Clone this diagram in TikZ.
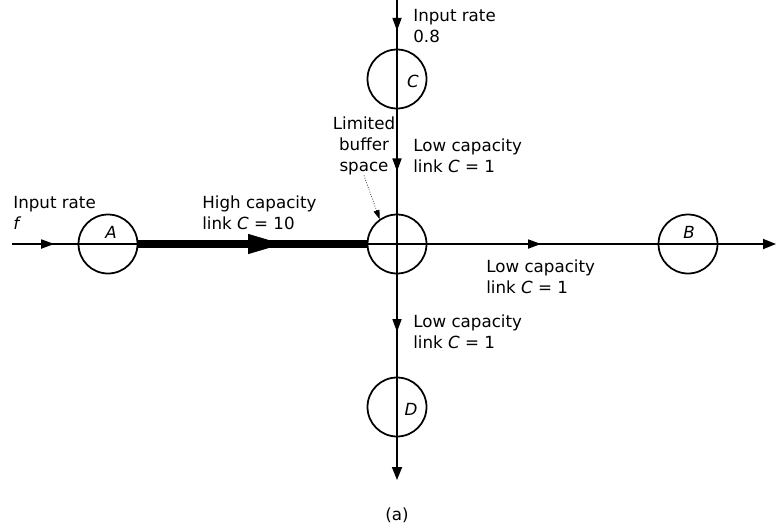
\documentclass[tikz,border=0pt]{standalone}
\usepackage{fontspec}
\setmainfont{DejaVu Sans}
\usetikzlibrary{arrows.meta, positioning, calc, decorations.markings}

\begin{document}
\begin{tikzpicture}[
      x=0.02cm, y=-0.02cm,
      station/.style={circle, draw, line width=1pt, minimum size=1.18cm, inner sep=0pt},
      txt/.style={font=\fontsize{9.5}{12}\selectfont, align=left, inner sep=0pt, anchor=north west},
      tag/.style={font=\fontsize{9.5}{12}\selectfont\itshape},
      link/.style={draw=black, line width=1pt},
      flowat/.style={postaction={decorate}, decoration={markings,
                     mark=at position #1 with {\arrow{Triangle[length=0.26cm, width=0.18cm]}}}},
      bigat/.style={postaction={decorate}, decoration={markings,
                     mark=at position #1 with {\arrow{Triangle[length=0.68cm, width=0.4cm, line width=0.4pt]}}}},
      endarr/.style={-{Triangle[length=0.26cm, width=0.2cm]}},
      leader/.style={line width=0.4pt, densely dotted, -{Triangle[length=0.18cm, width=0.12cm]}}
    ]
    \useasboundingbox (0,0) rectangle (777,528);

    % stations
    \node[station, label={[tag, xshift=0.06cm, yshift=0.24cm]center:A}] (A) at (108,244) {};
    \node[station] (X) at (397,244) {};
    \node[station, label={[tag, xshift=0.02cm, yshift=0.24cm]center:B}] (B) at (688,244) {};
    \node[station, label={[tag, xshift=0.32cm, yshift=-0.04cm]center:C}] (C) at (397,79) {};
    \node[station, label={[tag, xshift=0.28cm, yshift=-0.04cm]center:D}] (D) at (397,407) {};
    \coordinate (inA) at (12,244);
    \coordinate (outB) at (776,244);
    \coordinate (inC) at (397,0);
    \coordinate (outD) at (397,480);

    % texts
    \node[txt] (rateA) at (13,195.5) {Input rate\\\textit{f}};
    \node[txt] (hicap) at (202,195.5) {High capacity\\link \textit{C} = 10};
    \node[txt] (rateC) at (413,8.5) {Input rate\\0.8};
    \node[txt] (capCX) at (413,138.5) {Low capacity\\link \textit{C} = 1};
    \node[txt, align=center, anchor=north] (buf) at (364,116.5) {Limited\\buffer\\space};
    \node[txt] (capXB) at (486,259.5) {Low capacity\\link \textit{C} = 1};
    \node[txt] (capXD) at (413,314.5) {Low capacity\\link \textit{C} = 1};
    \node[txt, anchor=center] (fig) at (397,515) {(a)};

    % links
    \draw[link, flowat=0.44] (inA) -- (A.center);
    \draw[link] (A.center) -- (X.center);
    \draw[link, line width=0.16cm, bigat=0.63] (A.east) -- (X.west);
    \draw[link, flowat=0.495] (X.center) -- (B.center);
    \draw[link, endarr] (B.center) -- (outB);
    \draw[link, flowat=0.39] (inC) -- (C.center);
    \draw[link, flowat=0.56] (C.center) -- (X.center);
    \draw[link, flowat=0.54] (X.center) -- (D.center);
    \draw[link, endarr] (D.center) -- (outD);
    \draw[leader] (buf.south) -- (X.125);
  \end{tikzpicture}
\end{document}
